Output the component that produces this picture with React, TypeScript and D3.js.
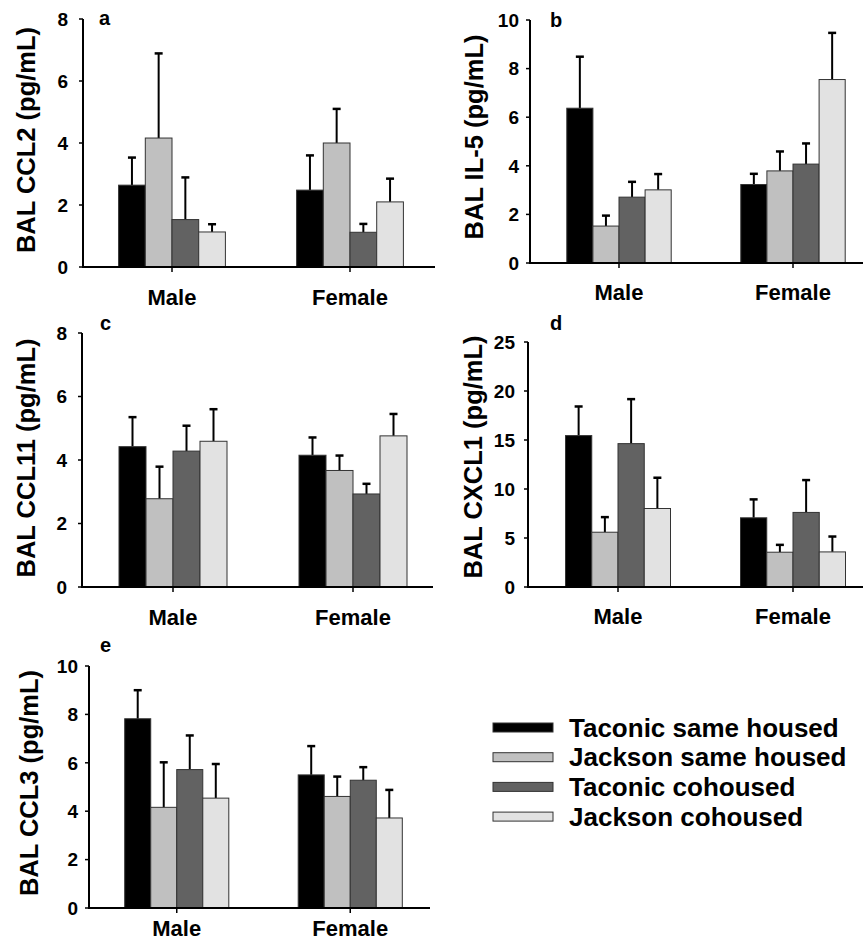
import React from "react";
import * as d3 from "d3";

const groups = ["Male", "Female"];
const series = ["Taconic same housed", "Jackson same housed", "Taconic cohoused", "Jackson cohoused"];
const seriesColors = ["#000000", "#c0c0c0", "#626262", "#e2e2e2"];

// means [group][series], SE [group][series]
const ccl2Mean = [[2.64, 4.16, 1.53, 1.13], [2.48, 4.0, 1.12, 2.1]];
const ccl2Err = [[0.89, 2.73, 1.36, 0.25], [1.12, 1.1, 0.27, 0.75]];
const ccl2Ticks = [0, 2, 4, 6, 8];

const il5Mean = [[6.37, 1.52, 2.71, 3.01], [3.23, 3.79, 4.07, 7.55]];
const il5Err = [[2.12, 0.43, 0.63, 0.65], [0.44, 0.8, 0.85, 1.92]];
const il5Ticks = [0, 2, 4, 6, 8, 10];

const ccl11Mean = [[4.42, 2.78, 4.28, 4.59], [4.15, 3.67, 2.93, 4.76]];
const ccl11Err = [[0.93, 1.01, 0.8, 1.01], [0.56, 0.47, 0.32, 0.69]];
const ccl11Ticks = [0, 2, 4, 6, 8];

const cxcl1Mean = [[15.45, 5.59, 14.63, 8.01], [7.06, 3.55, 7.61, 3.58]];
const cxcl1Err = [[2.97, 1.54, 4.54, 3.14], [1.88, 0.75, 3.3, 1.57]];
const cxcl1Ticks = [0, 5, 10, 15, 20, 25];

const ccl3Mean = [[7.82, 4.16, 5.72, 4.54], [5.5, 4.61, 5.28, 3.72]];
const ccl3Err = [[1.18, 1.86, 1.41, 1.41], [1.19, 0.82, 0.54, 1.16]];
const ccl3Ticks = [0, 2, 4, 6, 8, 10];

const FONT = "'Liberation Sans', Arial, Helvetica, sans-serif";

type PanelProps = {
  letter: string;
  title: string;
  mean: number[][];
  err: number[][];
  ticks: number[];
  axisX: number;
  axisEnd: number;
  bandStart: number;
  step: number;
  yTop: number;
  yBottom: number;
  tickPad: number;
  labelOffset: number;
  letterX: number;
  letterY: number;
  titleX: number;
  titleY: number;
};

function Panel(p: PanelProps) {
  const yMax = p.ticks[p.ticks.length - 1];
  const y = d3.scaleLinear().domain([0, yMax]).range([p.yBottom, p.yTop]);
  const x0 = d3.scaleBand<string>().domain(groups).range([p.bandStart, p.bandStart + 2 * p.step]);
  const gw = 0.6 * p.step;
  const x1 = d3
    .scaleBand<string>()
    .domain(series)
    .range([(x0.bandwidth() - gw) / 2, (x0.bandwidth() + gw) / 2]);
  const bw = x1.bandwidth();
  return (
    <g>
      {groups.map((g, gi) =>
        series.map((s, si) => {
          const bx = (x0(g) as number) + (x1(s) as number);
          const cx = bx + bw / 2;
          const m = p.mean[gi][si];
          const e = p.err[gi][si];
          return (
            <g key={g + s}>
              <line x1={cx} x2={cx} y1={y(m)} y2={y(m + e)} stroke="#000" strokeWidth={2} />
              <line x1={cx - 4} x2={cx + 4} y1={y(m + e)} y2={y(m + e)} stroke="#000" strokeWidth={2.5} />
              <rect
                x={bx}
                y={y(m)}
                width={bw}
                height={y(0) - y(m)}
                fill={seriesColors[si]}
                stroke="#333"
                strokeWidth={1}
              />
            </g>
          );
        })
      )}
      {/* y axis */}
      <line x1={p.axisX} x2={p.axisX} y1={p.yTop} y2={p.yBottom} stroke="#000" strokeWidth={2} />
      {p.ticks.map((t) => (
        <g key={t}>
          <line x1={p.axisX - 4} x2={p.axisX} y1={y(t)} y2={y(t)} stroke="#000" strokeWidth={1.5} />
          <text
            x={p.axisX - p.tickPad}
            y={y(t)}
            dy="0.36em"
            textAnchor="end"
            fontFamily={FONT}
            fontWeight="bold"
            fontSize={19}
            fill="#000"
          >
            {t}
          </text>
        </g>
      ))}
      {/* x axis */}
      <line x1={p.axisX - 1} x2={p.axisEnd} y1={p.yBottom} y2={p.yBottom} stroke="#000" strokeWidth={2} />
      {groups.map((g) => {
        const cx = (x0(g) as number) + x0.bandwidth() / 2;
        return (
          <g key={g}>
            <line x1={cx} x2={cx} y1={p.yBottom} y2={p.yBottom + 5} stroke="#000" strokeWidth={1.5} />
            <text
              x={cx}
              y={p.yBottom + p.labelOffset}
              textAnchor="middle"
              fontFamily={FONT}
              fontWeight="bold"
              fontSize={22}
              fill="#000"
            >
              {g}
            </text>
          </g>
        );
      })}
      <text x={p.letterX} y={p.letterY} fontFamily={FONT} fontWeight="bold" fontSize={20} fill="#000">
        {p.letter}
      </text>
      <text
        transform={`translate(${p.titleX},${p.titleY}) rotate(-90)`}
        textAnchor="middle"
        fontFamily={FONT}
        fontWeight="bold"
        fontSize={25.5}
        fill="#000"
      >
        {p.title}
      </text>
    </g>
  );
}

export default function App() {
  return (
    <svg
      width={863}
      height={942}
      style={{ position: "absolute", left: 0, top: 0, background: "#fff" }}
    >
      <rect x={0} y={0} width={863} height={942} fill="#fff" />
      <Panel
        letter="a"
        title="BAL CCL2 (pg/mL)"
        mean={ccl2Mean}
        err={ccl2Err}
        ticks={ccl2Ticks}
        axisX={83}
        axisEnd={435}
        bandStart={83}
        step={178}
        yTop={19}
        yBottom={267}
        tickPad={15}
        labelOffset={38}
        letterX={99}
        letterY={25}
        titleX={35}
        titleY={140}
      />
      <Panel
        letter="b"
        title="BAL IL-5 (pg/mL)"
        mean={il5Mean}
        err={il5Err}
        ticks={il5Ticks}
        axisX={530}
        axisEnd={870}
        bandStart={532}
        step={174}
        yTop={20}
        yBottom={263}
        tickPad={11}
        labelOffset={37}
        letterX={550}
        letterY={27}
        titleX={483}
        titleY={137}
      />
      <Panel
        letter="c"
        title="BAL CCL11 (pg/mL)"
        mean={ccl11Mean}
        err={ccl11Err}
        ticks={ccl11Ticks}
        axisX={82}
        axisEnd={433}
        bandStart={83}
        step={180}
        yTop={333}
        yBottom={587}
        tickPad={15}
        labelOffset={38}
        letterX={100}
        letterY={330}
        titleX={35}
        titleY={458}
      />
      <Panel
        letter="d"
        title="BAL CXCL1 (pg/mL)"
        mean={cxcl1Mean}
        err={cxcl1Err}
        ticks={cxcl1Ticks}
        axisX={528}
        axisEnd={870}
        bandStart={530.5}
        step={175}
        yTop={342}
        yBottom={587}
        tickPad={13}
        labelOffset={37}
        letterX={550}
        letterY={330}
        titleX={482}
        titleY={457}
      />
      <Panel
        letter="e"
        title="BAL CCL3 (pg/mL)"
        mean={ccl3Mean}
        err={ccl3Err}
        ticks={ccl3Ticks}
        axisX={89}
        axisEnd={430}
        bandStart={90}
        step={173.5}
        yTop={666}
        yBottom={908}
        tickPad={11}
        labelOffset={28}
        letterX={100}
        letterY={652}
        titleX={38}
        titleY={783}
      />
      {/* legend */}
      {series.map((s, i) => (
        <g key={s} transform={`translate(493,${723 + i * 29.7})`}>
          <rect x={0} y={0} width={60} height={9} fill={seriesColors[i]} stroke="#333" strokeWidth={1} />
          <text x={76} y={13.5} fontFamily={FONT} fontWeight="bold" fontSize={26} fill="#000">
            {s}
          </text>
        </g>
      ))}
    </svg>
  );
}
